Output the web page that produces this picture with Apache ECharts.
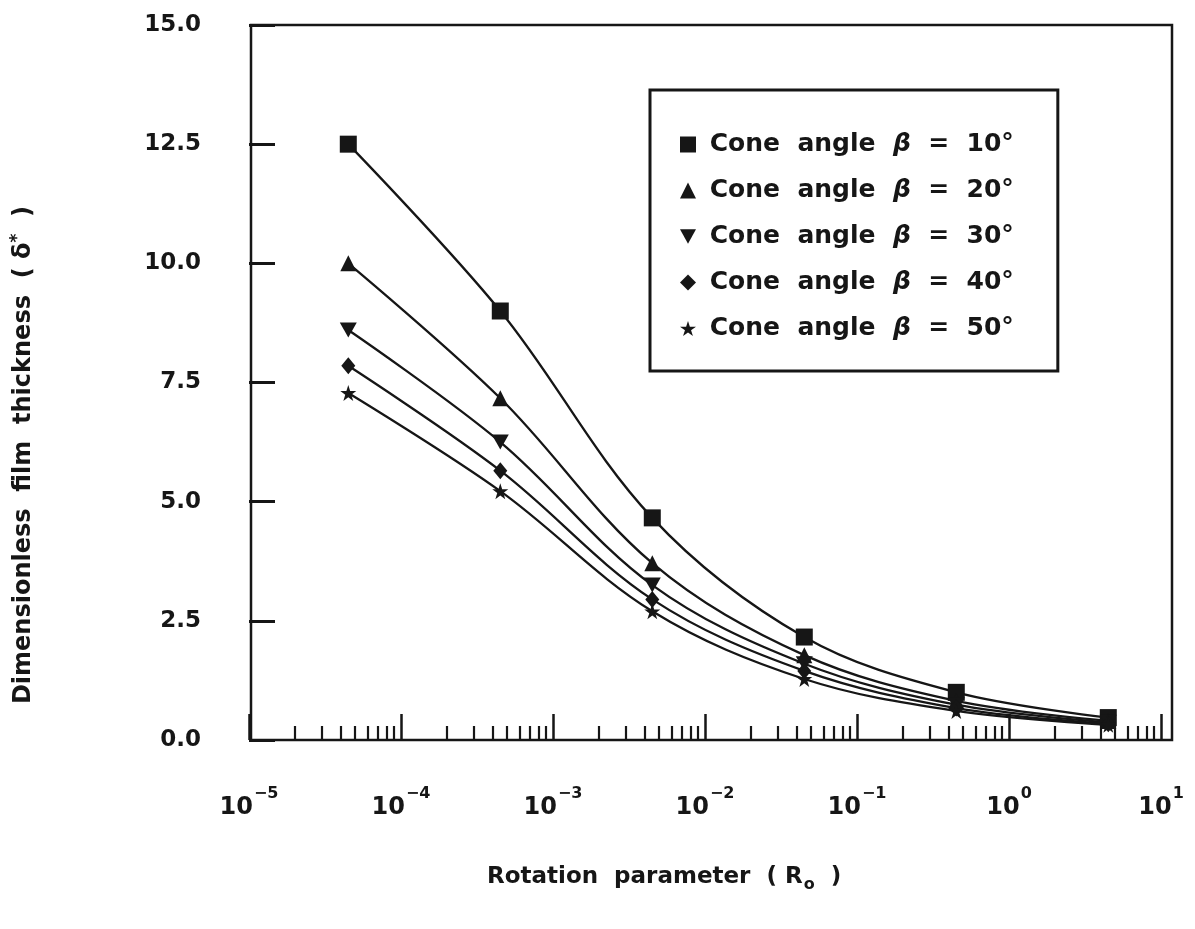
<!DOCTYPE html>
<html>
<head>
<meta charset="utf-8">
<script src="https://cdn.jsdelivr.net/npm/echarts@6/dist/echarts.min.js"></script>
<style>
  html, body { margin: 0; padding: 0; background: #fff; }
  #chart { width: 1195px; height: 929px; }
</style>
</head>
<body>
<div id="chart"></div>
<script>
// Rotation parameter values (log scale) at which the film thickness was computed
const rotationParam = [4.5e-5, 4.5e-4, 4.5e-3, 4.5e-2, 4.5e-1, 4.5];

// Dimensionless film thickness for each cone angle
const beta10 = [12.5, 9.0, 4.66, 2.16, 1.0, 0.47];
const beta20 = [10.0, 7.17, 3.71, 1.78, 0.82, 0.40];
const beta30 = [8.6, 6.25, 3.25, 1.60, 0.74, 0.37];
const beta40 = [7.85, 5.65, 2.95, 1.45, 0.67, 0.34];
const beta50 = [7.28, 5.22, 2.70, 1.28, 0.61, 0.32];

const coneAngles = ['10°', '20°', '30°', '40°', '50°'];
const seriesValues = [beta10, beta20, beta30, beta40, beta50];

// Y tick labels
const yTicks = [0, 2.5, 5, 7.5, 10, 12.5, 15];

// Minor ticks for the log axis: 2..9 in every decade
const minorTickValues = [];
for (let e = -5; e < 1; e++) {
  for (let m = 2; m <= 9; m++) minorTickValues.push(m * Math.pow(10, e));
}

const FONT = 'DejaVu Sans';
const INK = '#161616';

const symbols = [
  'rect',
  'triangle',
  'path://M0,0 L10,0 L5,9 Z',
  'diamond',
  'path://M5,0 L6.18,3.62 L10,3.62 L6.9,5.86 L8.09,9.5 L5,7.26 L1.91,9.5 L3.1,5.86 L0,3.62 L3.82,3.62 Z'
];
const symbolSizes = [17, 16, [17, 15], [14, 17], 16];

const seriesNames = coneAngles.map(a => 'Cone angle β = ' + a);

const superscript = {
  '-5': '−5', '-4': '−4', '-3': '−3', '-2': '−2', '-1': '−1', '0': '0', '1': '1'
};

const chart = echarts.init(document.getElementById('chart'));

chart.setOption({
  animation: false,
  backgroundColor: '#ffffff',
  grid: [
    { left: 249, right: 34, top: 25, bottom: 189 },
    // frame around the plotting area
    { left: 251, right: 23, top: 25, bottom: 189, show: true,
      borderColor: INK, borderWidth: 2.5, backgroundColor: 'transparent' }
  ],
  legend: {
    orient: 'vertical',
    left: 650,
    top: 90,
    padding: [42, 44, 30, 30],
    itemGap: 21,
    itemWidth: 16,
    itemHeight: 16,
    borderColor: INK,
    borderWidth: 3,
    backgroundColor: '#fff',
    data: seriesNames.map((n, i) => ({ name: n, icon: symbols[i] })),
    formatter: name => {
      const angle = name.split('= ')[1];
      return ' Cone  angle  {b|β}  =  ' + angle;
    },
    textStyle: {
      fontFamily: FONT,
      fontSize: 25,
      fontWeight: 'bold',
      color: INK,
      rich: {
        b: { fontFamily: FONT, fontSize: 25, fontWeight: 'bold', fontStyle: 'italic', color: INK }
      }
    }
  },
  xAxis: [
    {
      type: 'log',
      logBase: 10,
      min: 1e-5,
      max: 10,
      gridIndex: 0,
      axisLine: { show: false },
      splitLine: { show: false },
      axisTick: { inside: true, length: 26, lineStyle: { color: INK, width: 2.5 } },
      axisLabel: {
        margin: 46,
        color: INK,
        formatter: v => {
          const e = Math.round(Math.log10(v));
          return '{b|10}{s|' + superscript[String(e)] + '}';
        },
        rich: {
          b: { fontFamily: FONT, fontSize: 24, fontWeight: 'bold', color: INK, lineHeight: 34, verticalAlign: 'bottom' },
          s: { fontFamily: FONT, fontSize: 16, fontWeight: 'bold', color: INK, lineHeight: 34, verticalAlign: 'top', padding: [0, 0, 14, 1] }
        }
      }
    },
    {
      type: 'log',
      logBase: 10,
      min: 1e-5,
      max: 10,
      gridIndex: 0,
      position: 'bottom',
      axisLine: { show: false },
      splitLine: { show: false },
      axisLabel: { show: false },
      axisTick: {
        inside: true,
        length: 14,
        customValues: minorTickValues,
        lineStyle: { color: INK, width: 2.2 }
      }
    },
    { gridIndex: 1, type: 'value', show: false, min: 0, max: 1 }
  ],
  yAxis: [
    {
      type: 'value',
      gridIndex: 0,
      min: yTicks[0],
      max: yTicks[yTicks.length - 1],
      interval: 2.5,
      axisLine: { show: false },
      splitLine: { show: false },
      axisTick: { show: true, inside: true, length: 26, lineStyle: { color: INK, width: 3 } },
      axisLabel: {
        margin: 48,
        fontFamily: FONT,
        fontSize: 23,
        fontWeight: 'bold',
        color: INK,
        formatter: v => v.toFixed(1)
      }
    },
    { gridIndex: 1, type: 'value', show: false, min: 0, max: 1 }
  ],
  graphic: [
    {
      type: 'text',
      left: 487,
      top: 866,
      style: {
        text: 'Rotation  parameter  ( R{s|o}  )',
        fontFamily: FONT,
        fontSize: 23,
        fontWeight: 'bold',
        fill: INK,
        rich: {
          s: { fontFamily: FONT, fontSize: 16, fontWeight: 'bold', fill: INK, padding: [14, 0, 0, 1] }
        }
      }
    },
    {
      type: 'text',
      x: 24,
      y: 455,
      rotation: Math.PI / 2,
      style: {
        text: 'Dimensionless  film  thickness  ( δ{s|*}  )',
        fontFamily: FONT,
        fontSize: 24,
        fontWeight: 'bold',
        fill: INK,
        align: 'center',
        verticalAlign: 'middle',
        rich: {
          s: { fontFamily: FONT, fontSize: 17, fontWeight: 'bold', fill: INK, padding: [0, 0, 12, 0] }
        }
      }
    }
  ],
  series: seriesValues.map((vals, i) => ({
    name: seriesNames[i],
    type: 'line',
    xAxisIndex: 0,
    yAxisIndex: 0,
    smooth: 0.35,
    data: rotationParam.map((x, j) => [x, vals[j]]),
    symbol: symbols[i],
    symbolSize: symbolSizes[i],
    showAllSymbol: true,
    itemStyle: { color: INK, borderWidth: 0 },
    lineStyle: { color: INK, width: 2.3 },
    z: 5
  }))
});
</script>
</body>
</html>
